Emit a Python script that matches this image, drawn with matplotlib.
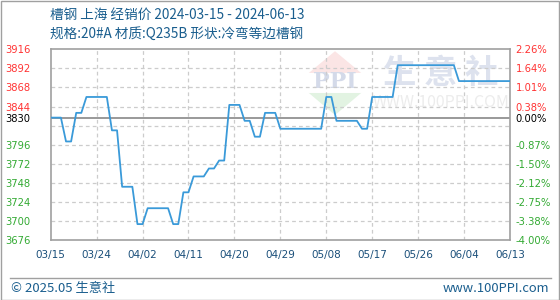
import matplotlib
matplotlib.use('Agg')
from matplotlib import pyplot as plt
from matplotlib.patches import Rectangle, Polygon
import numpy as np

plt.rcParams['font.family'] = ['Noto Sans CJK SC', 'DejaVu Sans']

# daily price, 2024-03-15 .. 2024-06-13 (yuan/ton)
prices = [3830, 3830, 3830, 3800, 3800, 3836, 3836, 3856, 3856, 3856,
          3856, 3856, 3814, 3814, 3743, 3743, 3743, 3696, 3696, 3716,
          3716, 3716, 3716, 3716, 3696, 3696, 3736, 3736, 3756, 3756,
          3756, 3766, 3766, 3776, 3776, 3846, 3846, 3846, 3826, 3826,
          3806, 3806, 3836, 3836, 3836, 3816, 3816, 3816, 3816, 3816,
          3816, 3816, 3816, 3816, 3856, 3856, 3826, 3826, 3826, 3826,
          3826, 3816, 3816, 3856, 3856, 3856, 3856, 3856, 3896, 3896,
          3896, 3896, 3896, 3896, 3896, 3896, 3896, 3896, 3896, 3896,
          3876, 3876, 3876, 3876, 3876, 3876, 3876, 3876, 3876, 3876,
          3876]
base_price = 3830

x_labels = ['03/15', '03/24', '04/02', '04/11', '04/20', '04/29',
            '05/08', '05/17', '05/26', '06/04', '06/13']
left_ticks = [3916, 3892, 3868, 3844, 3830, 3796, 3772, 3748, 3724, 3700, 3676]
right_labels = ['2.26%', '1.64%', '1.01%', '0.38%', '0.00%', '-0.87%',
                '-1.50%', '-2.12%', '-2.75%', '-3.38%', '-4.00%']
grid_levels = [3892, 3868, 3844, 3820, 3796, 3772, 3748, 3724, 3700]

title1 = '槽钢 上海 经销价 2024-03-15 - 2024-06-13'
title2 = '规格:20#A 材质:Q235B 形状:冷弯等边槽钢'

W, H = 560, 300
fig = plt.figure(figsize=(W / 100, H / 100), dpi=100)
ax = fig.add_axes([50.7 / W, 60 / H, (510 - 50.7) / W, (240 - 49.3) / H])

days = np.arange(len(prices))
ax.set_xlim(0, len(prices) - 1)
ax.set_ylim(3676, 3916)

# grid
for g in grid_levels:
    ax.axhline(g, color='#cccccc', lw=0.9, ls=(0, (3, 2.5)), zorder=1)
xt = np.arange(0, len(prices), 9)
for t in xt[1:-1]:
    ax.axvline(t, color='#cccccc', lw=0.9, ls=(0, (3, 2.5)), zorder=1)

# watermark
ax.add_patch(Polygon([[0.562, 0.876], [0.619, 0.99], [0.676, 0.876]],
                     closed=True, transform=ax.transAxes,
                     color='#fbe5e5', zorder=0, lw=0))
ax.add_patch(Polygon([[0.562, 0.771], [0.619, 0.655], [0.676, 0.771]],
                     closed=True, transform=ax.transAxes,
                     color='#e2f3e2', zorder=0, lw=0))
ax.text(0.619, 0.826, 'PPI', transform=ax.transAxes, ha='center', va='center',
        fontsize=16, color='#d4dae9', fontweight='bold', zorder=0,
        family='DejaVu Serif')
ax.text(0.85, 0.875, '生 意 社', transform=ax.transAxes, ha='center', va='center',
        fontsize=24, color='#dde2ee', fontweight='bold', zorder=0)
ax.text(0.85, 0.72, 'WWW.100PPI.COM', transform=ax.transAxes, ha='center',
        va='center', fontsize=11.5, color='#ececec', zorder=0)

# base line
ax.axhline(base_price, color='#999999', lw=1.4, zorder=2)

ax.plot(days, prices, color='#3a9ad9', lw=1.3, zorder=3)

for s in ax.spines.values():
    s.set_color('#a0a0a0')
    s.set_linewidth(1.2)

ax.set_xticks(xt)
ax.set_xticklabels(x_labels, fontsize=7.5, color='#1a4f7a', family='DejaVu Sans')
ax.tick_params(axis='x', length=0, pad=7)

ax.set_yticks(left_ticks)
ax.set_yticklabels([str(v) for v in left_ticks], fontsize=7.2, family='DejaVu Sans')
ax.tick_params(axis='y', length=0, pad=33)
for lab, v in zip(ax.get_yticklabels(), left_ticks):
    lab.set_horizontalalignment('left')
    lab.set_color('#ff3333' if v > base_price else ('#000000' if v == base_price else '#33aa33'))

ax2 = ax.twinx()
ax2.set_ylim(ax.get_ylim())
ax2.set_yticks(left_ticks)
ax2.set_yticklabels(right_labels, fontsize=7.2, family='DejaVu Sans')
ax2.tick_params(axis='y', length=0, pad=4)
for lab, v in zip(ax2.get_yticklabels(), left_ticks):
    lab.set_color('#ff3333' if v > base_price else ('#000000' if v == base_price else '#33aa33'))
for s in ax2.spines.values():
    s.set_visible(False)

# titles
fig.text(50 / W, 1 - 14.5 / H, title1, fontsize=9.8, color='#1a5e8e', va='center')
fig.text(50 / W, 1 - 34 / H, title2, fontsize=9.8, color='#1a5e8e', va='center')

# footer
fig.add_artist(plt.Line2D([10 / W, 551 / W], [1 - 277.5 / H, 1 - 277.5 / H],
                          color='#a0a0a0', lw=1.0))
fig.text(11 / W, 1 - 288.5 / H, '© 2025.05 生意社', fontsize=9.5,
         color='#1a5e8e', va='center')
fig.text(549 / W, 1 - 288.5 / H, 'www.100PPI.com', fontsize=9.3,
         color='#1a5e8e', va='center', ha='right')

# outer border
fig.add_artist(Rectangle((0.5 / W, 0.5 / H), 1 - 1.5 / W, 1 - 1.5 / H,
                         transform=fig.transFigure, fill=False,
                         edgecolor='#a0a0a0', lw=1.0))

fig.savefig('out.png', dpi=100)
